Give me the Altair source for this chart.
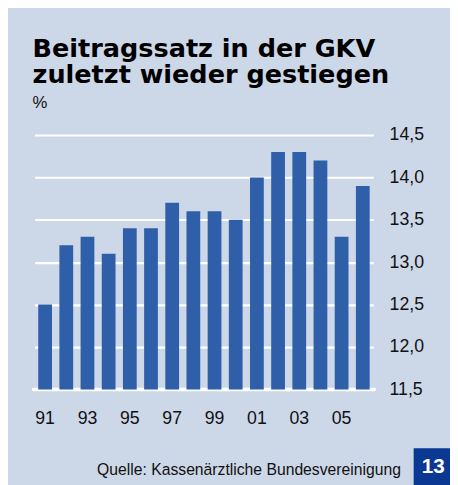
import altair as alt
import pandas as pd

# ---- data ----
years = ["91", "92", "93", "94", "95", "96", "97", "98", "99", "00",
         "01", "02", "03", "04", "05", "06"]
rates = [12.5, 13.2, 13.3, 13.1, 13.4, 13.4, 13.7, 13.6, 13.6, 13.5,
         14.0, 14.3, 14.3, 14.2, 13.3, 13.9]
x_tick_labels = ["91", "93", "95", "97", "99", "01", "03", "05"]
y_ticks = [11.5, 12.0, 12.5, 13.0, 13.5, 14.0, 14.5]
title_lines = ["Beitragssatz in der GKV", "zuletzt wieder gestiegen"]
unit_label = "%"
source_text = "Quelle: Kassenärztliche Bundesvereinigung"
page_number = "13"

BG = "#ccd7e8"
BAR = "#305faa"
BOX = "#0b3892"
FONT = "Liberation Sans"

df = pd.DataFrame({"year": years, "rate": rates})

y_scale = alt.Scale(domain=[11.5, 14.5], zero=False, nice=False)
y_axis = alt.Axis(
    values=y_ticks, orient="right", title=None, ticks=False,
    domain=False, grid=True, gridColor="white", gridWidth=2.2,
    labelFontSize=18, labelFont=FONT, labelColor="#111111",
    labelPadding=16,
    labelExpr="replace(format(datum.value, '.1f'), '.', ',')",
)

bars = alt.Chart(df).mark_bar(color=BAR).encode(
    x=alt.X(
        "year:O",
        sort=years,
        scale=alt.Scale(paddingInner=0.35, paddingOuter=0.175),
        axis=alt.Axis(
            values=x_tick_labels, title=None, orient="bottom", ticks=False,
            domain=False, labelAngle=0, labelFontSize=18, labelFont=FONT,
            labelColor="#111111", labelPadding=21,
        ),
    ),
    y=alt.Y("rate:Q", scale=y_scale, axis=y_axis),
    y2=alt.datum(11.5),
)

baseline = alt.Chart(pd.DataFrame({"rate": [y_ticks[0]]})).mark_rule(
    color="white", strokeWidth=3.5, strokeCap="round"
).encode(
    y=alt.Y("rate:Q", scale=y_scale, axis=y_axis),
    x=alt.value(-1),
    x2=alt.value(346),
)

def label(text, x, y, size, font=FONT, weight="normal", color="#111111",
          align="left"):
    return alt.Chart(pd.DataFrame({"t": [text]})).mark_text(
        font=font, fontSize=size, fontWeight=weight, color=color,
        align=align, baseline="alphabetic",
    ).encode(text="t:N", x=alt.value(x), y=alt.value(y))

title = alt.Chart(pd.DataFrame({"t": [0]})).mark_text(
    font="DejaVu Sans", fontSize=26, fontWeight="bold", color="#000000",
    align="left", baseline="alphabetic", lineHeight=26,
).encode(text=alt.value(title_lines), x=alt.value(-2), y=alt.value(-79))

unit = label(unit_label, -2, -27, 17)
src = label(source_text, 373, 346, 16, align="right")

box = alt.Chart(pd.DataFrame({"t": [page_number]})).mark_rect(color=BOX).encode(
    x=alt.value(386), x2=alt.value(440), y=alt.value(319), y2=alt.value(370)
)
num = label(page_number, 406, 344, 21, weight="bold", color="white",
            align="center")

chart = alt.layer(baseline, bars, title, unit, src, box, num).properties(
    width=345,
    height=259,
    background=BG,
    padding={"left": 27, "top": 125, "right": 78, "bottom": 93},
    autosize=alt.AutoSizeParams(type="none"),
).configure_view(stroke=None)

chart.save("out.html", embed_options={"renderer": "svg", "actions": False})
